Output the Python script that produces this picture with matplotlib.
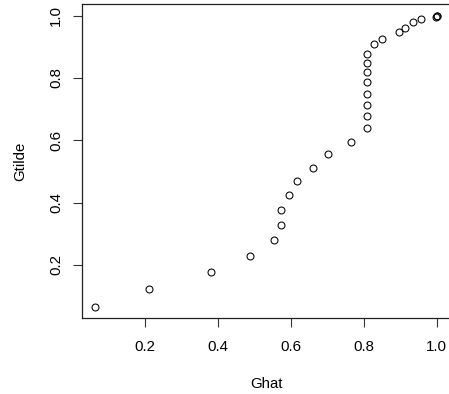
import matplotlib
matplotlib.use("Agg")
import matplotlib.pyplot as plt

ghat = [0.064, 0.212, 0.382, 0.488, 0.553, 0.574, 0.574, 0.596, 0.617, 0.660,
        0.702, 0.766, 0.808, 0.808, 0.808, 0.808, 0.808, 0.808, 0.808, 0.808,
        0.827, 0.851, 0.895, 0.913, 0.934, 0.956, 0.999, 1.000, 1.000]
gtilde = [0.066, 0.123, 0.178, 0.229, 0.280, 0.328, 0.376, 0.424, 0.469, 0.512,
          0.555, 0.596, 0.638, 0.677, 0.713, 0.750, 0.788, 0.819, 0.849, 0.877,
          0.908, 0.925, 0.947, 0.961, 0.978, 0.989, 0.997, 0.999, 1.000]
xticks = [0.2, 0.4, 0.6, 0.8, 1.0]
yticks = [0.2, 0.4, 0.6, 0.8, 1.0]

plt.rcParams['font.family'] = ['Liberation Sans', 'DejaVu Sans']
W, H = 449, 394
fig = plt.figure(figsize=(W/100, H/100), dpi=100)
left, right, top, bottom = 82, 450.5, 4, 318
ax = fig.add_axes([left/W, 1-bottom/H, (right-left)/W, (bottom-top)/H])
ax.plot(ghat, gtilde, linestyle='none', marker='o', markersize=5.0,
        markerfacecolor='none', markeredgecolor='black', markeredgewidth=0.75)
ax.set_xlim(0.0276, 1.0374)
ax.set_ylim(0.0297, 1.0373)
ax.set_xticks(xticks)
ax.set_yticks(yticks)
ax.set_xticklabels([f"{v:.1f}" for v in xticks])
ax.set_yticklabels([f"{v:.1f}" for v in yticks], rotation=90, va='center')
fs = 10.8
ax.tick_params(axis='both', length=6.5, width=0.8, labelsize=fs, color='#333333')
ax.tick_params(axis='x', pad=9.5)
ax.tick_params(axis='y', pad=7)
for s in ax.spines.values():
    s.set_linewidth(0.9)
    s.set_color('#222222')
ax.set_xlabel('Ghat', fontsize=fs, labelpad=16.5)
ax.set_ylabel('Gtilde', fontsize=fs, labelpad=15.5)
fig.savefig('out.png', dpi=100)
